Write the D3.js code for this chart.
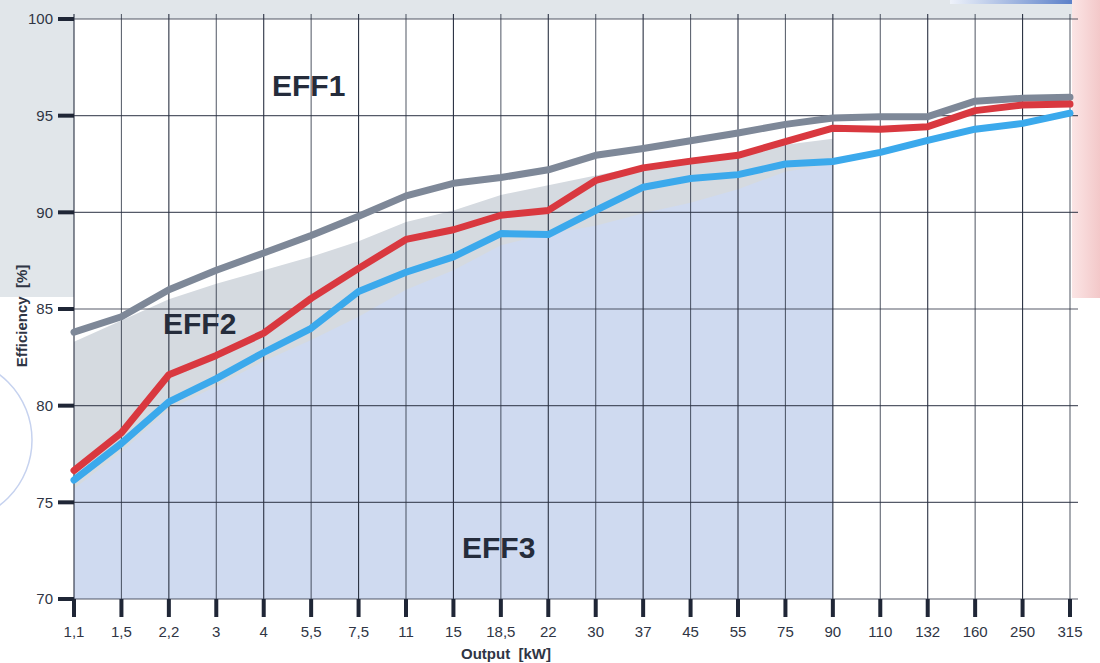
<!DOCTYPE html>
<html>
<head>
<meta charset="utf-8">
<script src="https://cdn.jsdelivr.net/npm/d3@7"></script>
<style>
  body { margin: 0; background: #fff; }
  svg { display: block; font-family: "Liberation Sans", Arial, sans-serif; }
  .title { white-space: pre; }
</style>
</head>
<body>
<script>
// output classes (kW) on the x axis
var outputs = ["1,1","1,5","2,2","3","4","5,5","7,5","11","15","18,5","22",
               "30","37","45","55","75","90","110","132","160","250","315"];

var effTicks = [70, 75, 80, 85, 90, 95, 100];

// efficiency lines [%]
var eff1Line = [83.8, 84.6, 86.0, 87.0, 87.9, 88.8, 89.8, 90.85, 91.5, 91.8, 92.2,
                92.95, 93.3, 93.7, 94.1, 94.55, 94.88, 94.95, 94.95, 95.75, 95.9, 95.95];
var eff2Line = [76.65, 78.6, 81.6, 82.6, 83.75, 85.55, 87.1, 88.6, 89.1, 89.85, 90.1,
                91.65, 92.3, 92.65, 92.95, 93.66, 94.35, 94.3, 94.43, 95.26, 95.55, 95.6];
var eff3Line = [76.15, 78.05, 80.2, 81.4, 82.75, 84.0, 85.9, 86.9, 87.7, 88.9, 88.85,
                90.1, 91.3, 91.75, 91.95, 92.5, 92.63, 93.1, 93.72, 94.3, 94.6, 95.13];

// shaded class zones, only up to 90 kW
var eff2ZoneTop = [83.3, 84.4, 85.5, 86.3, 87.0, 87.7, 88.5, 89.5, 90.1, 90.9, 91.4,
                   91.9, 92.4, 92.8, 93.1, 93.5, 93.8];
var eff3ZoneTop = [75.7, 77.6, 79.8, 81.0, 82.3, 83.4, 84.6, 86.0, 87.0, 88.3, 88.9,
                   89.3, 89.95, 90.5, 91.2, 92.1, 92.5];

var W = 1100, H = 663;
var margin = {top: 19, right: 30, bottom: 64, left: 74};

var svg = d3.select("body").append("svg")
    .attr("width", W)
    .attr("height", H);

var x = d3.scalePoint()
    .domain(outputs)
    .range([margin.left, W - margin.right]);

var y = d3.scaleLinear()
    .domain([70, 100])
    .range([H - margin.bottom, margin.top]);

var defs = svg.append("defs");
var pink = defs.append("linearGradient").attr("id", "pink");
pink.append("stop").attr("offset", "0%").attr("stop-color", "#fbe5e5");
pink.append("stop").attr("offset", "100%").attr("stop-color", "#f3c8c9");
var blueBar = defs.append("linearGradient").attr("id", "bluebar");
blueBar.append("stop").attr("offset", "0%").attr("stop-color", "#eef2fa");
blueBar.append("stop").attr("offset", "100%").attr("stop-color", "#5b80c9");

// page decoration behind the chart
svg.append("rect").attr("x", 0).attr("y", 0).attr("width", 1072).attr("height", margin.top)
    .attr("fill", "#e1e6ea");
svg.append("rect").attr("x", 0).attr("y", 0).attr("width", margin.left).attr("height", 297)
    .attr("fill", "#e1e6ea");
svg.append("rect").attr("x", 1072).attr("y", 0).attr("width", 28).attr("height", 298)
    .attr("fill", "url(#pink)");
svg.append("rect").attr("x", 950).attr("y", 0).attr("width", 122).attr("height", 4)
    .attr("fill", "url(#bluebar)");
svg.append("circle").attr("cx", -50).attr("cy", 440).attr("r", 82)
    .attr("fill", "none").attr("stroke", "#c6d2ef").attr("stroke-width", 1.5);

// zones
var zoneCats = outputs.slice(0, eff2ZoneTop.length);
var zone = d3.area()
    .x(function(d, i) { return x(zoneCats[i]); })
    .y0(y(70))
    .y1(function(d) { return y(d); });

svg.append("path").attr("d", zone(eff2ZoneTop)).attr("fill", "#d5dae0");
svg.append("path").attr("d", zone(eff3ZoneTop)).attr("fill", "#cfdaf0");

// grid
var grid = svg.append("g").attr("stroke", "#2a3142").attr("stroke-width", 1.1);
grid.selectAll(".vline")
    .data(outputs)
  .enter().append("line")
    .attr("x1", function(d) { return x(d); })
    .attr("x2", function(d) { return x(d); })
    .attr("y1", 14)
    .attr("y2", y(70))
    .attr("stroke-opacity", function(d, i) { return i % 2 ? 0.75 : 1; });
grid.selectAll(".hline")
    .data(effTicks)
  .enter().append("line")
    .attr("x1", margin.left)
    .attr("x2", W - margin.right + 8)
    .attr("y1", function(d) { return y(d); })
    .attr("y2", function(d) { return y(d); })
    .attr("stroke-opacity", 0.8);

// y axis: heavy tick stubs and labels
svg.selectAll(".ytick")
    .data(effTicks)
  .enter().append("line")
    .attr("x1", 58).attr("x2", margin.left)
    .attr("y1", function(d) { return y(d); })
    .attr("y2", function(d) { return y(d); })
    .attr("stroke", "#1f2636").attr("stroke-width", 4);
svg.selectAll(".ylabel")
    .data(effTicks)
  .enter().append("text")
    .attr("x", 53)
    .attr("y", function(d) { return y(d); })
    .attr("dy", "0.35em")
    .attr("text-anchor", "end")
    .attr("font-size", 15)
    .attr("fill", "#2f3544")
    .text(function(d) { return d; });

// x axis
svg.selectAll(".xtick")
    .data(outputs)
  .enter().append("line")
    .attr("x1", function(d) { return x(d); })
    .attr("x2", function(d) { return x(d); })
    .attr("y1", y(70)).attr("y2", y(70) + 18)
    .attr("stroke", "#1f2636").attr("stroke-width", 4);
svg.selectAll(".xlabel")
    .data(outputs)
  .enter().append("text")
    .attr("x", function(d) { return x(d); })
    .attr("y", 637)
    .attr("text-anchor", "middle")
    .attr("font-size", 15)
    .attr("fill", "#2f3544")
    .text(function(d) { return d; });

svg.append("text")
    .attr("class", "title")
    .attr("x", 506).attr("y", 659)
    .attr("text-anchor", "middle")
    .attr("font-size", 15).attr("font-weight", "bold")
    .attr("fill", "#2f3544")
    .text("Output  [kW]");
svg.append("text")
    .attr("class", "title")
    .attr("transform", "translate(27,316) rotate(-90)")
    .attr("text-anchor", "middle")
    .attr("font-size", 15).attr("font-weight", "bold")
    .attr("fill", "#2f3544")
    .text("Efficiency  [%]");

// efficiency curves
var line = d3.line()
    .x(function(d, i) { return x(outputs[i]); })
    .y(function(d) { return y(d); });

var series = [
  {values: eff1Line, color: "#7e8898"},
  {values: eff2Line, color: "#d9383f"},
  {values: eff3Line, color: "#3ba9ec"}
];
svg.selectAll(".curve")
    .data(series)
  .enter().append("path")
    .attr("d", function(d) { return line(d.values); })
    .attr("fill", "none")
    .attr("stroke", function(d) { return d.color; })
    .attr("stroke-width", 7)
    .attr("stroke-linecap", "round")
    .attr("stroke-linejoin", "round");

// class labels
var classLabels = [
  {text: "EFF1", x: 272, y: 96},
  {text: "EFF2", x: 163, y: 334},
  {text: "EFF3", x: 462, y: 558}
];
svg.selectAll(".cls")
    .data(classLabels)
  .enter().append("text")
    .attr("x", function(d) { return d.x; })
    .attr("y", function(d) { return d.y; })
    .attr("font-size", 30).attr("font-weight", "bold")
    .attr("fill", "#252c3b")
    .text(function(d) { return d.text; });
</script>
</body>
</html>
